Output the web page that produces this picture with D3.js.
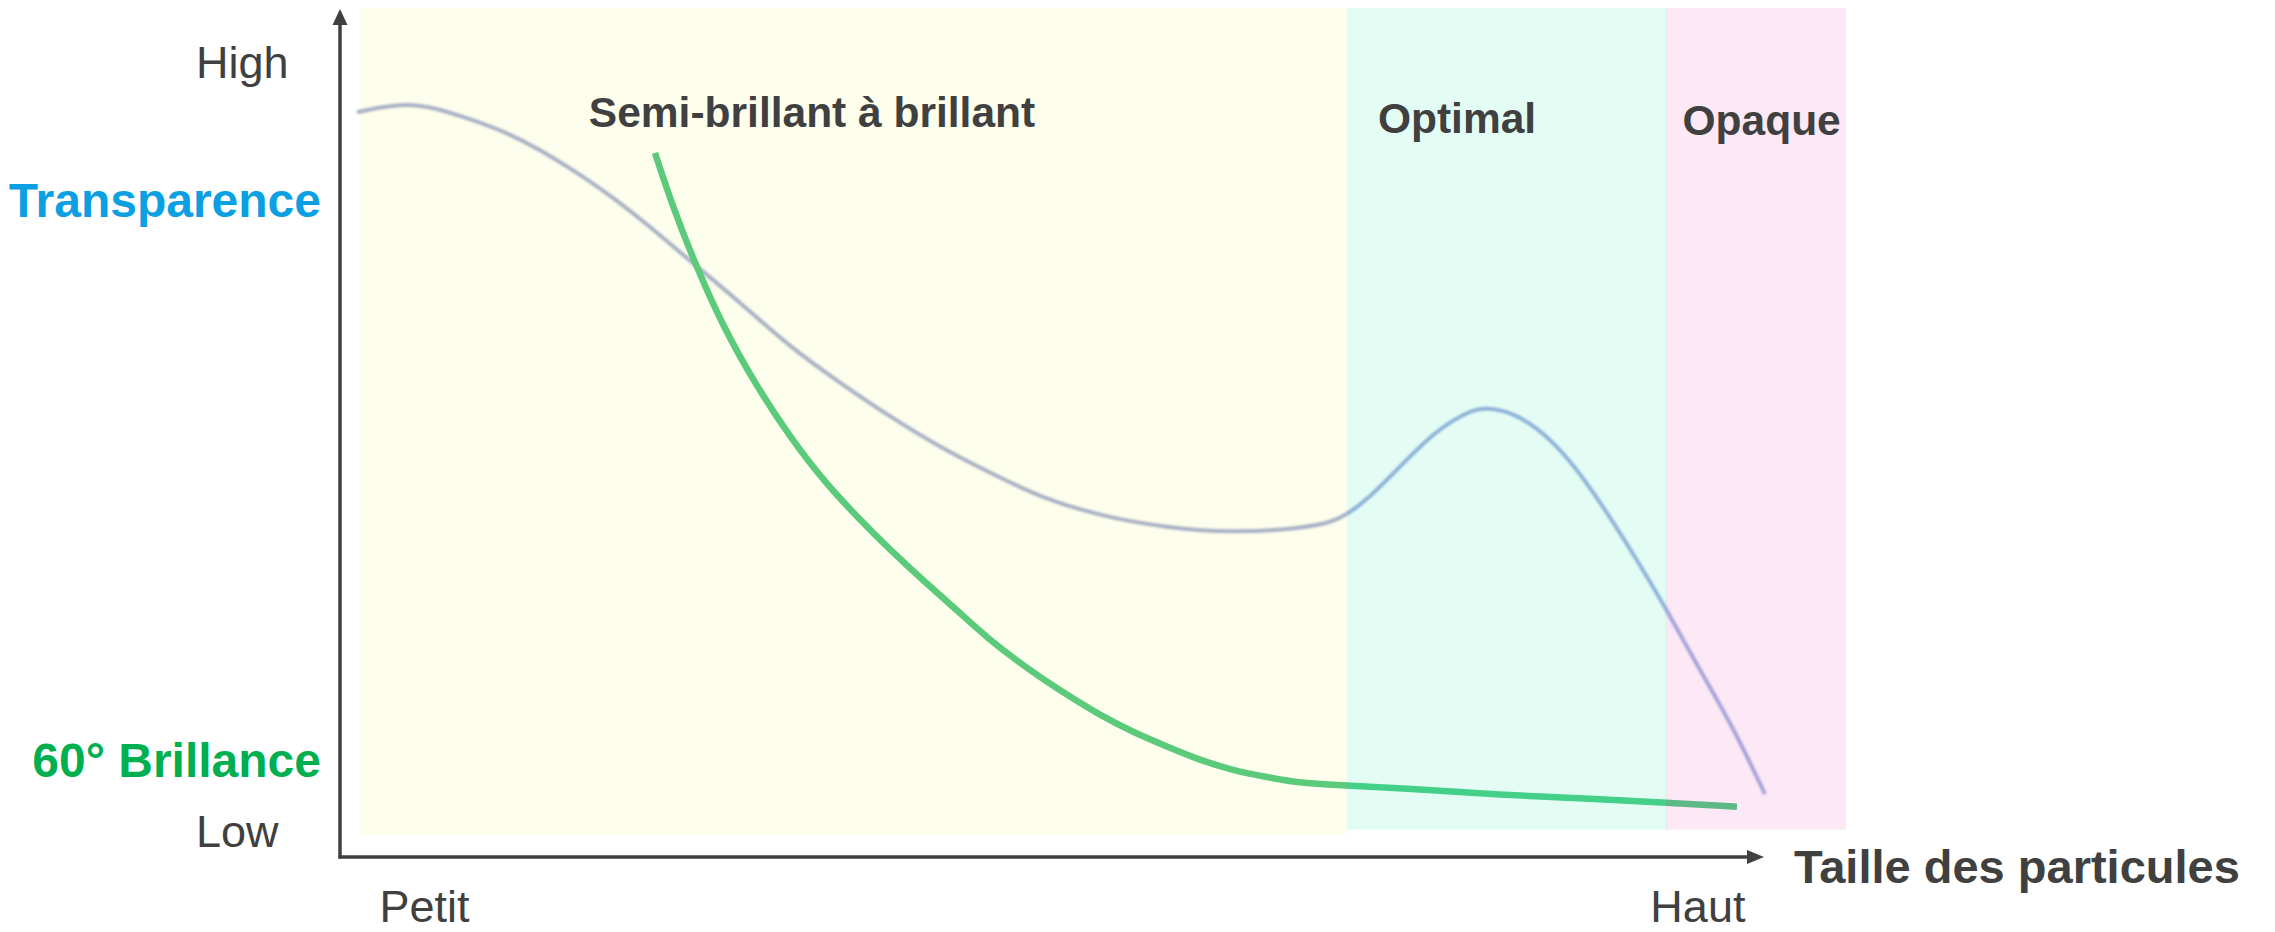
<!DOCTYPE html>
<html>
<head>
<meta charset="utf-8">
<script src="https://cdn.jsdelivr.net/npm/d3@7/dist/d3.min.js"></script>
<style>
  html, body { margin: 0; padding: 0; background: #fff; }
  svg { display: block; font-family: "Liberation Sans", Arial, Helvetica, sans-serif; }
</style>
</head>
<body>
<div id="chart"></div>
<script>
// x = particle size (0 small .. 100 large), y = level (0 low .. 100 high)
const transparenceX = [-0.2, 1.35, 3.16, 4.91, 7.6, 9.89, 12.11, 14.33, 16.62, 18.84, 22.41, 25.57, 28.94, 32.3, 35.67, 39.03, 42.4, 45.76, 49.8, 54.31, 58.75, 63.26, 65.48, 66.42, 67.77, 69.99, 72.21, 74.5, 75.71, 77.39, 79.14, 80.82, 82.57, 84.25, 85.94, 87.95, 90.17, 92.4, 94.55];
const transparenceY = [87.7, 88.3, 88.7, 88.3, 86.8, 85.3, 83.3, 80.9, 78.2, 75.2, 69.9, 65.3, 60.0, 55.8, 51.8, 48.2, 45.2, 42.3, 40.1, 38.7, 38.1, 38.6, 39.4, 40.3, 42.0, 45.9, 49.9, 52.4, 52.9, 52.4, 50.6, 47.9, 44.0, 39.6, 34.9, 29.0, 21.9, 15.2, 7.3];

const brillanceX = [19.85, 21.06, 22.54, 24.43, 26.72, 28.94, 31.16, 33.45, 35.67, 37.89, 40.17, 42.19, 45.29, 47.58, 49.8, 52.02, 54.31, 56.53, 58.75, 61.04, 63.26, 66.28, 69.99, 76.72, 83.45, 87.95, 92.66];
const brillanceY = [82.9, 76.5, 69.9, 62.4, 55.3, 49.4, 44.3, 40.0, 36.1, 32.5, 29.0, 25.7, 21.6, 19.0, 16.6, 14.6, 12.9, 11.3, 10.1, 9.3, 8.6, 8.3, 8.0, 7.2, 6.7, 6.3, 5.8];

// zones along the particle size axis
const zoneNames = ["Semi-brillant à brillant", "Optimal", "Opaque"];
const zoneStart = [0, 66.4, 87.9];
const zoneEnd = [66.4, 87.9, 100];
const zoneFloor = [2.5, 3.1, 3.1];
const zoneLabelX = [15.4, 68.5, 89.0];
const zoneLabelY = [86.0, 85.3, 85.0];

const xTicks = [4.3, 90.0];
const xTickLabels = ["Petit", "Haut"];
const yTicks = [2.8, 93.5];
const yTickLabels = ["Low", "High"];

const seriesNames = ["Transparence", "60° Brillance"];
const seriesLabelY = [75.4, 9.3];
const xTitle = "Taille des particules";

const W = 2275, H = 932;
const TEXT = "#404040";

const svg = d3.select("#chart").append("svg")
    .attr("width", W)
    .attr("height", H);

svg.append("rect").attr("width", W).attr("height", H).attr("fill", "#fff");

const x = d3.scaleLinear().domain([0, 100]).range([360, 1846]);
const y = d3.scaleLinear().domain([0, 100]).range([856, 8]);
const originX = 340, originY = 857;

// Zone backgrounds
const zoneFill = ["#fefeec", "#e4fdf4", "#fde8f5"];
const defs = svg.append("defs");

// the curves change tint as they cross each zone
const makeGradient = (id, colors) => {
    const g = defs.append("linearGradient")
        .attr("id", id)
        .attr("gradientUnits", "userSpaceOnUse")
        .attr("x1", x(0)).attr("x2", x(100))
        .attr("y1", 0).attr("y2", 0);
    zoneStart.forEach((s, i) => {
        g.append("stop").attr("offset", s / 100).attr("stop-color", colors[i]);
        g.append("stop").attr("offset", zoneEnd[i] / 100).attr("stop-color", colors[i]);
    });
};
makeGradient("gradT", ["#a9b2c6", "#8fb3d9", "#a7a5dc"]);
makeGradient("gradB", ["#5bca7b", "#45d08a", "#5cb986"]);

defs.append("filter").attr("id", "soft")
    .append("feGaussianBlur").attr("stdDeviation", 0.8);

const zones = zoneNames.map((name, i) => ({ name, x0: zoneStart[i], x1: zoneEnd[i], floor: zoneFloor[i], lx: zoneLabelX[i], ly: zoneLabelY[i] }));

svg.append("g").selectAll("rect")
    .data(zones)
    .join("rect")
    .attr("x", d => x(d.x0))
    .attr("y", y(100))
    .attr("width", d => x(d.x1) - x(d.x0))
    .attr("height", d => y(d.floor) - y(100))
    .attr("fill", (d, i) => zoneFill[i]);

// faint seam between optimal and opaque
svg.append("line")
    .attr("x1", x(zoneStart[2])).attr("x2", x(zoneStart[2]))
    .attr("y1", y(100)).attr("y2", y(zoneFloor[2]))
    .attr("stroke", "#e6eeee").attr("stroke-width", 2);

// Curves
const line = d3.line()
    .x(d => x(d[0]))
    .y(d => y(d[1]))
    .curve(d3.curveBasis);

svg.append("path")
    .datum(d3.zip(transparenceX, transparenceY))
    .attr("fill", "none")
    .attr("stroke", "url(#gradT)")
    .attr("stroke-width", 4)
    .attr("filter", "url(#soft)")
    .attr("d", line);

svg.append("path")
    .datum(d3.zip(brillanceX, brillanceY))
    .attr("fill", "none")
    .attr("stroke", "url(#gradB)")
    .attr("stroke-width", 6.5)
    .attr("stroke-linecap", "butt")
    .attr("d", line);

// Zone labels
svg.append("g").selectAll("text")
    .data(zones)
    .join("text")
    .attr("x", d => x(d.lx))
    .attr("y", d => y(d.ly))
    .attr("font-size", 42.5)
    .attr("font-weight", "bold")
    .attr("fill", TEXT)
    .text(d => d.name);

// Axes (ticks are the Low/High and Petit/Haut words)
const yAxis = svg.append("g")
    .attr("transform", `translate(${originX},0)`)
    .call(d3.axisLeft(y).tickValues(yTicks).tickFormat((d, i) => yTickLabels[i]).tickSize(0));
yAxis.select(".domain").remove();
yAxis.attr("font-family", null).attr("font-size", null);
yAxis.selectAll("text")
    .attr("x", -144)
    .attr("text-anchor", "start")
    .attr("font-size", 45)
    .attr("fill", TEXT);

const xAxis = svg.append("g")
    .attr("transform", `translate(0,${originY})`)
    .call(d3.axisBottom(x).tickValues(xTicks).tickFormat((d, i) => xTickLabels[i]).tickSize(0).tickPadding(33));
xAxis.select(".domain").remove();
xAxis.attr("font-family", null).attr("font-size", null);
xAxis.selectAll("text")
    .attr("font-size", 45)
    .attr("fill", TEXT);

// axis lines with arrow heads
const axisG = svg.append("g").attr("fill", TEXT).attr("stroke", TEXT);
axisG.append("line")
    .attr("x1", originX).attr("y1", originY + 1.5)
    .attr("x2", originX).attr("y2", 22)
    .attr("stroke-width", 3.5);
axisG.append("path")
    .attr("stroke", "none")
    .attr("d", `M${originX},9 L${originX - 7.5},25 L${originX + 7.5},25 Z`);
axisG.append("line")
    .attr("x1", originX - 1.5).attr("y1", originY)
    .attr("x2", 1750).attr("y2", originY)
    .attr("stroke-width", 3.5);
axisG.append("path")
    .attr("stroke", "none")
    .attr("d", `M1764,${originY} L1747,${originY - 7} L1747,${originY + 7} Z`);

svg.append("text")
    .attr("x", 1794)
    .attr("y", originY + 26)
    .attr("font-size", 47)
    .attr("font-weight", "bold")
    .attr("fill", TEXT)
    .text(xTitle);

// Series names on the left
const seriesColor = ["#0aa0e2", "#00b050"];
svg.append("g").selectAll("text")
    .data(seriesNames)
    .join("text")
    .attr("x", 321)
    .attr("y", (d, i) => y(seriesLabelY[i]))
    .attr("text-anchor", "end")
    .attr("font-size", 48)
    .attr("font-weight", "bold")
    .attr("fill", (d, i) => seriesColor[i])
    .text(d => d);
</script>
</body>
</html>
